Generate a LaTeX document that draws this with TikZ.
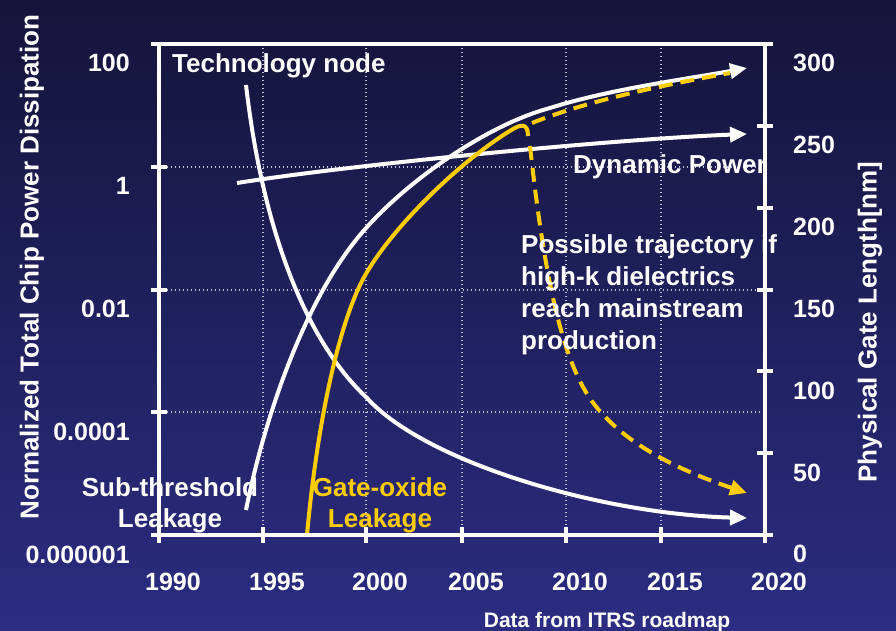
\documentclass[tikz,border=0pt]{standalone}
\usepackage{fontspec}
\setmainfont{Liberation Sans}
\usetikzlibrary{arrows.meta}
\definecolor{bgtop}{RGB}{20,20,58}
\definecolor{bgbot}{RGB}{44,44,130}
\definecolor{gold}{RGB}{255,204,0}
\definecolor{gridc}{RGB}{190,190,212}
\begin{document}
\begin{tikzpicture}[x=1pt,y=-1pt,
  lbl/.style={font=\fontsize{26}{32}\selectfont\bfseries, text=white, inner sep=0pt},
  ticklbl/.style={font=\fontsize{25}{30}\selectfont\bfseries, text=white, inner sep=0pt},
  gridline/.style={draw=gridc, line width=1.3pt, dash pattern=on 1.4pt off 2.6pt},
  axisline/.style={draw=white, line width=3.5pt},
  wcurve/.style={draw=white, line width=4pt},
  gcurve/.style={draw=gold, line width=4pt},
  gdash/.style={draw=gold, line width=4pt, dash pattern=on 14pt off 8pt},
  arrowtip/.style={-{Triangle[length=17pt,width=15pt]}}
]
\useasboundingbox (0,0) rectangle (896,631);
\shade[top color=bgtop, bottom color=bgbot] (0,0) rectangle (896,631);

% grid
\foreach \gx in {263,366,462,566,661} \draw[gridline] (\gx,44) -- (\gx,535);
\foreach \gy in {167,290,412} \draw[gridline] (159,\gy) -- (765,\gy);

% technology node curve
\draw[wcurve, arrowtip] (246,85) .. controls (264,240) and (310,345) .. (367,398)
  .. controls (425,462) and (600,514) .. (747,518);
% sub-threshold leakage curve
\draw[wcurve, arrowtip] (246,510) .. controls (264,420) and (305,295) .. (367,227)
  .. controls (412,177) and (490,124) .. (550,108)
  .. controls (610,89) and (687,79) .. (747,68);
% dynamic power
\draw[wcurve, arrowtip] (237,183) .. controls (357,164) and (617,139) .. (747,134);

% gate-oxide leakage
\draw[gcurve] (307,535) .. controls (316,435) and (337,322) .. (367,272)
  .. controls (397,222) and (463,159) .. (513,129)
  .. controls (520,125) and (528,122) .. (528,136);
\draw[gdash] (532,123) .. controls (592,99) and (670,84) .. (730,73);
\draw[gdash, arrowtip] (530,146) .. controls (541,246) and (555.5,337) .. (583,387)
  .. controls (610,437) and (672,468) .. (747,493);

% frame and ticks
\draw[axisline] (151,44) -- (773,44);
\draw[axisline] (151,535) -- (773,535);
\draw[axisline] (159,44) -- (159,543);
\draw[axisline] (765,44) -- (765,543);
\foreach \ty in {167,290,412} \draw[axisline] (151,\ty) -- (167,\ty);
\foreach \ty in {126,208,290,371,453} \draw[axisline] (757,\ty) -- (773,\ty);
\foreach \tx in {263,366,462,566,661} \draw[axisline] (\tx,527) -- (\tx,543);

% tick labels
\foreach \v [count=\i from 0] in {100,1,0.01,0.0001,0.000001}
  \node[ticklbl, anchor=base east] (yl\i) at (130,72+122.75*\i) {\v};
\foreach \v [count=\i from 0] in {300,250,200,150,100,50,0}
  \node[ticklbl, anchor=base west] (yr\i) at (793,72+81.83*\i) {\v};
\foreach \tx/\v in {159/1990,263/1995,366/2000,462/2005,566/2010,661/2015,765/2020}
  \node[ticklbl, anchor=base] (x\v) at (\tx+14,590) {\v};

% axis titles
\node[lbl, rotate=90] (ylab) at (32,267) {Normalized Total Chip Power Dissipation};
\node[lbl, rotate=90] (yrlab) at (870,322) {Physical Gate Length[nm]};
\node[font=\fontsize{21}{24}\selectfont\bfseries, text=white, inner sep=0pt, anchor=base] (src) at (607,627) {Data from ITRS roadmap};

% curve labels
\node[lbl, anchor=base west] (tech) at (172,73) {Technology node};
\node[lbl, anchor=base west] (dyn) at (573,174) {Dynamic Power};
\node[lbl, anchor=north west, align=left] (poss) at (521,234) {Possible trajectory if\\high-k dielectrics\\reach mainstream\\production};
\node[lbl, anchor=north, align=center, font=\fontsize{26}{31}\selectfont\bfseries] (sub) at (170,477) {Sub-threshold\\Leakage};
\node[lbl, anchor=north, align=center, text=gold, font=\fontsize{26}{31}\selectfont\bfseries] (gox) at (380,477) {Gate-oxide\\Leakage};
\end{tikzpicture}
\end{document}
